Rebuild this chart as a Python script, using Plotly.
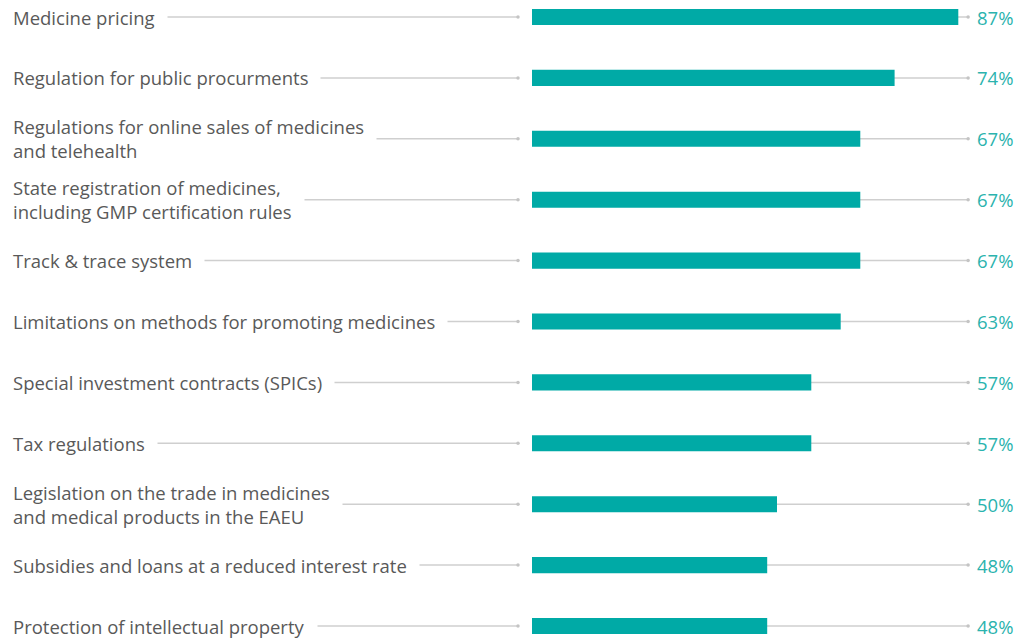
import plotly.graph_objects as go

categories = [
    "Medicine pricing",
    "Regulation for public procurments",
    "Regulations for online sales of medicines<br>and telehealth",
    "State registration of medicines,<br>including GMP certification rules",
    "Track & trace system",
    "Limitations on methods for promoting medicines",
    "Special investment contracts (SPICs)",
    "Tax regulations",
    "Legislation on the trade in medicines<br>and medical products in the EAEU",
    "Subsidies and loans at a reduced interest rate",
    "Protection of intellectual property",
]
values = [87, 74, 67, 67, 67, 63, 57, 57, 50, 48, 48]
value_labels = [f"{v}%" for v in values]

TEAL = "#00aaa6"
TEXT_TEAL = "#2bb3ae"
GREY = "#cfcfcf"
LABEL = "#595959"
FONT = "Open Sans"

# page has an 8px body margin; figure sits at (8, 8)
OFF = 8
W, H = 1024 - 2 * OFF, 638 - OFF
PX_PER_UNIT = 4.9
X0_PX = 532 - OFF
x_range = [-X0_PX / PX_PER_UNIT, (W - X0_PX) / PX_PER_UNIT]
PAD = 12
label_xp = (12 - OFF - PAD) / W          # paper coords
leader_end = (518 - OFF - X0_PX) / PX_PER_UNIT
track_end = 89
pct_xp = (W - 1) / W                      # paper coords

n = len(categories)
ys = list(range(n))
row_px = 60.9
first_px = 17 - OFF
y_top = -first_px / row_px
y_bot = -first_px / row_px + H / row_px

fig = go.Figure()

shapes = []
for i in ys:
    shapes.append(dict(type="line", xref="x", yref="y", x0=x_range[0] + 2, x1=leader_end,
                       y0=i, y1=i, line=dict(color=GREY, width=1.5), layer="below"))
    shapes.append(dict(type="line", xref="x", yref="y", x0=0, x1=track_end,
                       y0=i, y1=i, line=dict(color=GREY, width=1.5), layer="below"))

fig.add_trace(go.Scatter(
    x=[leader_end] * n + [track_end] * n, y=ys + ys, mode="markers",
    marker=dict(color="#c4c4c4", size=3.5, symbol="circle"),
    hoverinfo="skip", showlegend=False))

fig.add_trace(go.Bar(
    x=values, y=ys, orientation="h", width=0.265,
    marker=dict(color=TEAL, line=dict(width=0)),
    hovertext=categories, hoverinfo="x+text", showlegend=False))

annotations = []
for i, (c, t) in enumerate(zip(categories, value_labels)):
    annotations.append(dict(
        x=label_xp, y=i, xref="paper", yref="y", text=c, showarrow=False,
        xanchor="left", yanchor="middle", align="left",
        bgcolor="white", borderpad=PAD,
        font=dict(family=FONT, size=18.5, color=LABEL)))
    annotations.append(dict(
        x=pct_xp, y=i, xref="paper", yref="y", text=t, showarrow=False,
        xanchor="right", yanchor="middle", align="right",
        font=dict(family=FONT, size=18.5, color=TEXT_TEAL)))

fig.update_layout(
    width=W, height=H,
    margin=dict(l=0, r=0, t=0, b=0),
    paper_bgcolor="white", plot_bgcolor="white",
    shapes=shapes, annotations=annotations,
    xaxis=dict(range=x_range, visible=False, fixedrange=True),
    yaxis=dict(range=[y_bot, y_top], visible=False, fixedrange=True),
    font=dict(family=FONT),
)

fig.write_html("out.html")
